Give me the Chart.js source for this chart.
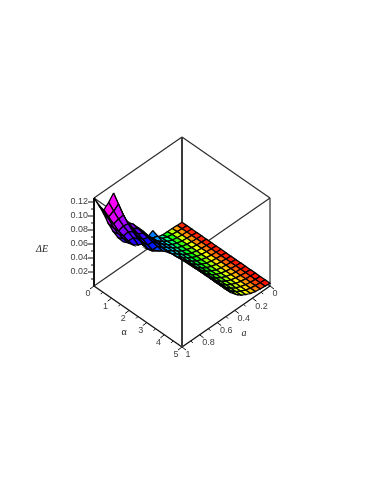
<!DOCTYPE html>
<html>
<head>
<meta charset="utf-8">
<title>Delta E surface</title>
<script src="https://cdn.jsdelivr.net/npm/chart.js@4/dist/chart.umd.min.js"></script>
<style>
  html, body { margin: 0; padding: 0; background: #fff; }
  canvas { display: block; filter: blur(0.35px); }
</style>
</head>
<body>
<canvas id="surface" width="374" height="484"></canvas>
<script>
const alphaValues = [0, 0.278, 0.556, 0.833, 1.111, 1.389, 1.667, 1.944, 2.222, 2.5, 2.778, 3.056, 3.333, 3.611, 3.889, 4.167, 4.444, 4.722, 5];
const aValues = [0, 0.056, 0.111, 0.167, 0.222, 0.278, 0.333, 0.389, 0.444, 0.5, 0.556, 0.611, 0.667, 0.722, 0.778, 0.833, 0.889, 0.944, 1];

// one row per alpha, one column per a; rows stop where the surface stops
const deltaE = [
  [.004,.0043,.0047,.005,.0053,.007,.021,.017,.030,.040,.050,.056,.067,.089,.1136,.105,.099,.110,.126],
  [.004,.0044,.005,.0058,.0072,.0098,.018,.020,.0279,.0391,.0484,.0531,.063,.082,.1027,.0974,.0937,.1057,.1206],
  [.004,.0045,.0051,.006,.0076,.0105,.0155,.0205,.027,.0383,.0467,.0501,.0593,.074,.0919,.0909,.0886,.1006,.1126],
  [.004,.0045,.0052,.0062,.0079,.0108,.0155,.021,.0269,.0374,.0451,.0471,.0556,.0674,.0839,.0857,.0834,.0926,.1031],
  [.004,.0046,.0052,.0063,.0081,.011,.0157,.0212,.026,.0366,.0436,.0441,.0519,.0623,.0773,.082,.0811,.0889,.0966],
  [.004,.0046,.0053,.0064,.0083,.0113,.0158,.0214,.0259,.035,.042,.0419,.048,.0586,.0721,.0783,.0789,.0869,.0929],
  [.004,.0046,.0053,.0065,.0084,.0115,.0159,.0215,.0264,.034,.0404,.0453,.05,.0577,.0699,.0731,.078,.0857,.092],
  [.004,.0046,.0053,.0065,.0085,.0116,.016,.0216,.027,.036],
  [.004,.0047,.0053,.0066,.0085,.0117,.016,.0217,.0283,.0367],
  [.004,.0047,.0054,.0066,.0086,.0118,.0161,.0218,.029,.0373],
  [.004,.0047,.0054,.0066,.0086,.0118,.0161,.0219,.029,.0379],
  [.004,.0047,.0054,.0067,.0086,.0119,.0161,.022,.029,.038],
  [.004,.0047,.0054,.0067,.0086,.0119,.0161,.022,.029,.039],
  [.004,.0047,.0054,.0067,.0087,.0119,.0161,.022,.029,.04],
  [.004,.0047,.0054,.0067,.0087,.012,.0161,.022,.029,.04],
  [.004,.0047,.0054,.0067,.0087,.012,.0161,.022,.029,.04],
  [.004,.0047,.0054,.0067,.0087,.012,.0161,.022,.029,.04],
  [.004,.0047,.0054,.0067,.0087,.012,.0161,.022,.029,.04],
  [.004,.0047,.0054,.0067,.0087,.012,.0161,.022,.029,.04]
];

const alphaTicks = [0, 1, 2, 3, 4, 5];
const alphaMinorTicks = [0.5, 1.5, 2.5, 3.5, 4.5];
const aTicks = [0, 0.2, 0.4, 0.6, 0.8, 1];
const aTickLabels = ["0", "0.2", "0.4", "0.6", "0.8", "1"];
const aMinorTicks = [0.1, 0.3, 0.5, 0.7, 0.9];
const deltaETicks = [0.02, 0.04, 0.06, 0.08, 0.1, 0.12];
const deltaETickLabels = ["0.02", "0.04", "0.06", "0.08", "0.10", "0.12"];
const deltaEMinorTicks = [0.01, 0.03, 0.05, 0.07, 0.09, 0.11];
const deltaETop = 0.1257;

// how far the colour has moved along the hue wheel, per column of cells
const hueShare = [.03, .12, .25, .38, .50, .60, .68, .75, .80, .85, .88, .90, .93, .95, .97, .98, 1, 1];

// view of the box: alpha and a run on the floor, deltaE runs straight up
function project(alpha, a, z) {
  return {
    x: 182 + 17.6 * alpha - 88 * a,
    y: 225 + 12.2 * alpha + 61 * a - 700 * z
  };
}

function cellHue(i, j) {
  return (310 - 40 * alphaValues[i]) * hueShare[j];
}

function lineSet(points, color, width) {
  return { data: points, showLine: true, borderColor: color, borderWidth: width, pointRadius: 0, fill: false, clip: false };
}

// surface cells, nearest first because the first dataset is painted last
const cells = [];
for (let i = 0; i < alphaValues.length - 1; i++) {
  for (let j = 0; j < aValues.length - 1; j++) {
    if (deltaE[i][j + 1] === undefined || deltaE[i + 1][j + 1] === undefined) continue;
    const corners = [[i, j], [i + 1, j], [i + 1, j + 1], [i, j + 1], [i, j]];
    const points = corners.map(c => project(alphaValues[c[0]], aValues[c[1]], deltaE[c[0]][c[1]]));
    let depth = 0;
    corners.slice(0, 4).forEach(c => {
      depth += alphaValues[c[0]] / 5 + aValues[c[1]] + deltaE[c[0]][c[1]] / deltaETop;
    });
    cells.push({
      depth,
      dataset: {
        data: points,
        showLine: true,
        fill: "shape",
        backgroundColor: `hsl(${cellHue(i, j)}, 100%, 50%)`,
        borderColor: "#000",
        borderWidth: 1.3,
        pointRadius: 0,
        clip: false
      }
    });
  }
}
cells.sort((p, q) => q.depth - p.depth);

// box edges
const A = 5, Z = deltaETop;
const frameEdges = [
  [[0, 0, Z], [A, 0, Z]], [[A, 0, Z], [A, 1, Z]], [[A, 1, Z], [0, 1, Z]], [[0, 1, Z], [0, 0, Z]],
  [[0, 0, 0], [A, 0, 0]], [[0, 0, 0], [0, 1, 0]],
  [[A, 0, 0], [A, 0, Z]]
];
const thinLines = frameEdges.map(e => lineSet(e.map(p => project(p[0], p[1], p[2])), "#2b2b2b", 1.2));

const thickLines = [
  lineSet([project(0, 0, 0), project(0, 0, Z)], "#3a3a3a", 2),
  lineSet([project(A, 1, 0), project(A, 1, Z)], "#3a3a3a", 2),
  lineSet([project(0, 1, 0), project(0, 1, Z)], "#111", 2),
  lineSet([project(0, 1, 0), project(A, 1, 0)], "#111", 1.4),
  lineSet([project(A, 1, 0), project(A, 0, 0)], "#111", 1.4)
];

// tick marks leave the floor edge outwards
function tickLine(from, dx, dy) {
  return lineSet([from, { x: from.x + dx, y: from.y + dy }], "#111", 1);
}
const ticks = [];
alphaTicks.forEach(t => ticks.push(tickLine(project(t, 1, 0), -4, 3)));
alphaMinorTicks.forEach(t => ticks.push(tickLine(project(t, 1, 0), -2, 2)));
aTicks.forEach(t => ticks.push(tickLine(project(A, t, 0), 4, 3)));
aMinorTicks.forEach(t => ticks.push(tickLine(project(A, t, 0), 2, 2)));
deltaETicks.forEach(t => ticks.push(tickLine(project(0, 1, t), -6, 0)));
deltaEMinorTicks.forEach(t => ticks.push(tickLine(project(0, 1, t), -3, 0)));

// axis text goes through the same hidden scales as the marks
const axisText = {
  id: "axisText",
  afterDatasetsDraw(chart) {
    const ctx = chart.ctx;
    const sx = chart.scales.x, sy = chart.scales.y;
    function put(text, p, dx, dy, font, align) {
      ctx.font = font;
      ctx.textAlign = align || "center";
      ctx.textBaseline = "middle";
      ctx.fillText(text, sx.getPixelForValue(p.x) + dx, sy.getPixelForValue(p.y) + dy);
    }
    const small = '9px "Liberation Sans"';
    ctx.save();
    ctx.fillStyle = "#3c3c3c";
    alphaTicks.forEach(t => put(String(t), project(t, 1, 0), -6, 8, small));
    aTicks.forEach((t, n) => put(aTickLabels[n], project(A, t, 0), t === 0 ? 5 : t === 1 ? 6 : 9, 8, small));
    deltaETicks.forEach((t, n) => put(deltaETickLabels[n], project(0, 1, t), -6, 0, small, "right"));
    ctx.fillStyle = "#222";
    put("\u0394E", { x: 42, y: 249 }, 0, 0, 'italic 10px "Liberation Serif"');
    put("\u03b1", { x: 124, y: 332 }, 0, 0, '10px "Liberation Serif"');
    put("a", { x: 244, y: 333 }, 0, 0, 'italic 10px "Liberation Serif"');
    ctx.restore();
  }
};

new Chart(document.getElementById("surface").getContext("2d"), {
  type: "scatter",
  data: {
    datasets: cells.map(c => c.dataset).concat(thickLines, ticks, thinLines)
  },
  options: {
    responsive: false,
    animation: false,
    events: [],
    layout: { padding: 0 },
    plugins: { legend: { display: false }, tooltip: { enabled: false } },
    scales: {
      x: { type: "linear", display: false, min: 0, max: 374 },
      y: { type: "linear", display: false, min: 0, max: 484, reverse: true }
    }
  },
  plugins: [axisText]
});
</script>
</body>
</html>
